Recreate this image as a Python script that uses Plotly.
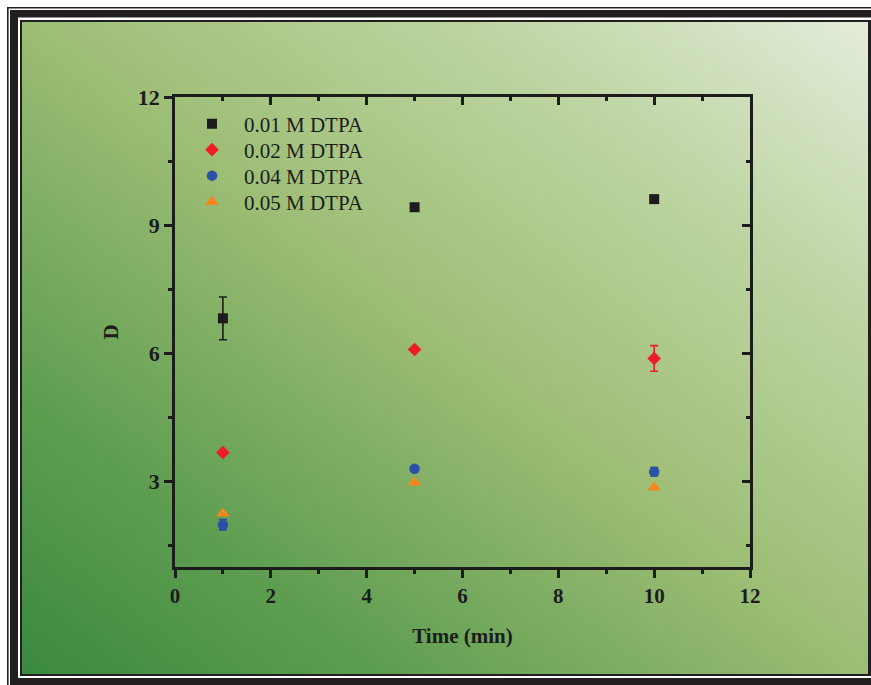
import base64
import plotly.graph_objects as go

W, H = 871, 685

time_min = [1, 5, 10]
series_names = ["0.01 M DTPA", "0.02 M DTPA", "0.04 M DTPA", "0.05 M DTPA"]
d_001 = [6.82, 9.42, 9.61]
d_002 = [3.68, 6.09, 5.88]
d_004 = [1.99, 3.30, 3.23]
d_005 = [2.25, 2.98, 2.86]
err_001 = [0.50, 0.0, 0.0]
err_002 = [0.0, 0.0, 0.30]
err_004 = [0.12, 0.05, 0.10]
err_005 = [0.0, 0.0, 0.0]
x_ticks = [0, 2, 4, 6, 8, 10, 12]
y_ticks = [3, 6, 9, 12]

colors = ["#1c1c1c", "#ee1c25", "#2b50a6", "#f7861f"]
symbols = ["square", "diamond", "circle", "triangle-up"]
sizes = [10, 10.5, 10.5, 12]
legend_ids = ["legend", "legend2", "legend3", "legend4"]
legend_rows_px = [124, 150, 176, 202]


def px(x):
    return x / W


def py(y):
    return 1 - y / H


fig = go.Figure()
for name, ys, es, c, s, sz, lg in zip(series_names, [d_001, d_002, d_004, d_005],
                                      [err_001, err_002, err_004, err_005],
                                      colors, symbols, sizes, legend_ids):
    fig.add_trace(go.Scatter(
        x=time_min, y=ys, mode="markers", name=name, legend=lg,
        marker=dict(symbol=s, size=sz, color=c, line=dict(width=0)),
        error_y=dict(type="data", array=es, visible=True, color=c,
                     thickness=1.6, width=4),
    ))

# empty trace to attach mirror (top/right) axes
fig.add_trace(go.Scatter(x=[], y=[], xaxis="x2", yaxis="y2",
                         showlegend=False, hoverinfo="skip"))

# gradient background as svg image
svg = (
    '<svg xmlns="http://www.w3.org/2000/svg" width="846" height="652" '
    'preserveAspectRatio="none">'
    '<defs><linearGradient id="g" x1="0" y1="1" x2="1" y2="0">'
    '<stop offset="0" stop-color="#3a893f"/>'
    '<stop offset="0.22" stop-color="#5f9e51"/>'
    '<stop offset="0.5" stop-color="#9cbd74"/>'
    '<stop offset="0.78" stop-color="#c0d6a5"/>'
    '<stop offset="1" stop-color="#e3ecda"/>'
    '</linearGradient></defs>'
    '<rect width="846" height="652" fill="url(#g)"/></svg>'
)
src = "data:image/svg+xml;base64," + base64.b64encode(svg.encode()).decode()

fig.add_layout_image(dict(
    source=src, xref="paper", yref="paper",
    x=px(22), y=py(22), sizex=px(868) - px(22), sizey=py(22) - py(674),
    xanchor="left", yanchor="top", sizing="stretch", layer="below",
))

shapes = []


def rect(x0, y0, x1, y1):
    shapes.append(dict(type="rect", xref="paper", yref="paper",
                       x0=px(x0), x1=px(x1), y0=py(y1), y1=py(y0),
                       fillcolor="#231f20", line=dict(width=0), layer="below"))


rect(7, 7, 8.6, H)
rect(7, 7, W, 8.6)
rect(10, 10, 18, H)
rect(10, 10, W, 17.5)
rect(20, 20, W, 22)
rect(20, 20, 22, 676)
rect(868, 20, W, 676)
rect(20, 674, W, 676)
rect(18, 678, W, H)

font_fam = "Liberation Serif, Times New Roman, serif"
ink = "#1c1c1c"

line_style = dict(showgrid=False, zeroline=False, showline=True,
                  linecolor=ink, linewidth=2.8, tickcolor=ink, tickwidth=2.5)

legend_common = dict(
    xanchor="left", yanchor="middle", bgcolor="rgba(0,0,0,0)", borderwidth=0,
    font=dict(size=21, family=font_fam, color=ink), itemwidth=54,
)

layout_legends = {}
for lg, row in zip(legend_ids, legend_rows_px):
    layout_legends[lg] = dict(x=px(180), y=py(row), **legend_common)

fig.update_layout(
    autosize=True,
    margin=dict(l=0, r=0, t=0, b=0, autoexpand=False),
    paper_bgcolor="white", plot_bgcolor="rgba(0,0,0,0)",
    shapes=shapes,
    font=dict(family=font_fam, color=ink),
    xaxis=dict(
        domain=[px(175), px(750)], range=[0, 12], tickvals=x_ticks,
        ticks="outside", ticklen=8,
        minor=dict(ticks="outside", ticklen=4, dtick=1, tickwidth=2.5,
                   tickcolor=ink),
        tickfont=dict(size=21, family=font_fam, weight="bold"),
        title=dict(text="<b>Time (min)</b>", font=dict(size=21), standoff=22),
        anchor="y", **line_style,
    ),
    yaxis=dict(
        domain=[py(567), py(97)], range=[1, 12], tickvals=y_ticks,
        ticks="outside", ticklen=8,
        minor=dict(ticks="outside", ticklen=4, tickvals=[1.5, 4.5, 7.5, 10.5],
                   tickwidth=2.5, tickcolor=ink),
        tickfont=dict(size=22, family=font_fam, weight="bold"),
        title=dict(text="<b>D</b>", font=dict(size=21), standoff=14),
        anchor="x", **line_style,
    ),
    xaxis2=dict(
        overlaying="x", side="top", anchor="y2", range=[0, 12],
        tickvals=x_ticks, ticks="inside", ticklen=8, showticklabels=False,
        minor=dict(ticks="inside", ticklen=4, dtick=1, tickwidth=2.5,
                   tickcolor=ink),
        **line_style,
    ),
    yaxis2=dict(
        overlaying="y", side="right", anchor="x2", range=[1, 12],
        tickvals=y_ticks, ticks="inside", ticklen=8, showticklabels=False,
        minor=dict(ticks="inside", ticklen=4, tickvals=[1.5, 4.5, 7.5, 10.5],
                   tickwidth=2.5, tickcolor=ink),
        **line_style,
    ),
    showlegend=True,
    **layout_legends,
)

fig.write_html(
    "out.html",
    default_width="871px",
    default_height="685px; position:absolute; left:0px; top:0px",
    config={"responsive": False},
    post_script=(
        "document.documentElement.style.margin='0';"
        "document.body.style.margin='0';document.body.style.padding='0';"
        "document.documentElement.style.overflow='hidden';"
        "document.body.style.overflow='hidden';"
    ),
)
